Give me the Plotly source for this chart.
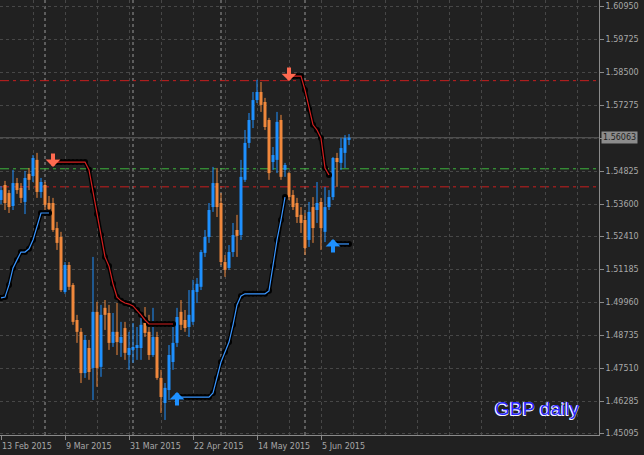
import plotly.graph_objects as go
import pandas as pd

# ---------------- data ----------------
dates = pd.bdate_range("2015-02-13", periods=88)

opens = [1.5375, 1.5431, 1.5401, 1.5353, 1.5438, 1.5420, 1.5368, 1.5472, 1.5464, 1.5524,
         1.5405, 1.5431, 1.5364, 1.5364, 1.5271, 1.5238, 1.5034, 1.5134, 1.5060, 1.4930,
         1.4886, 1.4733, 1.4826, 1.4752, 1.4960, 1.4756, 1.4975, 1.4956, 1.4845, 1.4886,
         1.4845, 1.4900, 1.4800, 1.4819, 1.4826, 1.4826, 1.4919, 1.4886, 1.4800, 1.4867,
         1.4715, 1.4622, 1.4670, 1.4774, 1.4845, 1.4960, 1.4930, 1.4904, 1.4923, 1.5034,
         1.5053, 1.5179, 1.5238, 1.5349, 1.5438, 1.5364, 1.5145, 1.5123, 1.5182, 1.5264,
         1.5245, 1.5450, 1.5587, 1.5672, 1.5746, 1.5776, 1.5739, 1.5672, 1.5516, 1.5524,
         1.5672, 1.5487, 1.5475, 1.5394, 1.5364, 1.5320, 1.5301, 1.5227, 1.5349, 1.5338,
         1.5368, 1.5257, 1.5349, 1.5386, 1.5531, 1.5513, 1.5550, 1.5598]
highs = [1.5427, 1.5446, 1.5412, 1.5487, 1.5457, 1.5438, 1.5483, 1.5494, 1.5542, 1.5550,
         1.5457, 1.5442, 1.5390, 1.5383, 1.5294, 1.5257, 1.5145, 1.5145, 1.5067, 1.4949,
         1.4900, 1.4874, 1.4856, 1.5164, 1.4997, 1.4986, 1.5004, 1.4986, 1.4956, 1.4993,
         1.4923, 1.4923, 1.4886, 1.4919, 1.4904, 1.4949, 1.4978, 1.4949, 1.4975, 1.4886,
         1.4745, 1.4696, 1.4837, 1.4904, 1.4975, 1.5004, 1.4967, 1.5041, 1.5079, 1.5086,
         1.5190, 1.5264, 1.5364, 1.5498, 1.5494, 1.5401, 1.5171, 1.5208, 1.5290, 1.5320,
         1.5524, 1.5635, 1.5698, 1.5776, 1.5821, 1.5813, 1.5754, 1.5680, 1.5572, 1.5702,
         1.5691, 1.5513, 1.5479, 1.5412, 1.5383, 1.5349, 1.5327, 1.5368, 1.5386, 1.5442,
         1.5383, 1.5424, 1.5412, 1.5535, 1.5550, 1.5605, 1.5616, 1.5620]
lows = [1.5360, 1.5338, 1.5327, 1.5338, 1.5398, 1.5364, 1.5323, 1.5412, 1.5442, 1.5383,
        1.5383, 1.5338, 1.5331, 1.5257, 1.5190, 1.5034, 1.5027, 1.5041, 1.4912, 1.4845,
        1.4696, 1.4715, 1.4708, 1.4633, 1.4682, 1.4719, 1.4893, 1.4819, 1.4830, 1.4800,
        1.4793, 1.4782, 1.4745, 1.4771, 1.4782, 1.4782, 1.4867, 1.4782, 1.4793, 1.4708,
        1.4585, 1.4559, 1.4633, 1.4745, 1.4830, 1.4893, 1.4886, 1.4867, 1.4912, 1.4993,
        1.5041, 1.5164, 1.5216, 1.5331, 1.5312, 1.5134, 1.5090, 1.5116, 1.5164, 1.5164,
        1.5227, 1.5442, 1.5568, 1.5642, 1.5735, 1.5702, 1.5635, 1.5450, 1.5487, 1.5475,
        1.5450, 1.5461, 1.5375, 1.5338, 1.5290, 1.5253, 1.5171, 1.5201, 1.5216, 1.5290,
        1.5190, 1.5219, 1.5338, 1.5375, 1.5424, 1.5487, 1.5494, 1.5579]
closes = [1.5412, 1.5364, 1.5349, 1.5438, 1.5412, 1.5383, 1.5457, 1.5450, 1.5531, 1.5405,
          1.5442, 1.5357, 1.5342, 1.5264, 1.5216, 1.5041, 1.5134, 1.5053, 1.4923, 1.4886,
          1.4733, 1.4856, 1.4737, 1.4960, 1.4752, 1.4949, 1.4949, 1.4845, 1.4886, 1.4848,
          1.4867, 1.4808, 1.4826, 1.4830, 1.4837, 1.4912, 1.4882, 1.4800, 1.4867, 1.4715,
          1.4644, 1.4678, 1.4800, 1.4845, 1.4941, 1.4912, 1.4900, 1.4949, 1.5041, 1.5064,
          1.5182, 1.5238, 1.5338, 1.5438, 1.5349, 1.5145, 1.5116, 1.5182, 1.5245, 1.5242,
          1.5461, 1.5587, 1.5672, 1.5746, 1.5776, 1.5728, 1.5646, 1.5475, 1.5542, 1.5665,
          1.5461, 1.5505, 1.5386, 1.5349, 1.5312, 1.5290, 1.5197, 1.5331, 1.5271, 1.5364,
          1.5271, 1.5349, 1.5386, 1.5531, 1.5516, 1.5568, 1.5605, 1.56063]

# trailing stop lines (None = inactive)
sell_stop = ([None] * 13 +
             [1.5516, 1.5516, 1.5516, 1.5516, 1.5516, 1.5516, 1.5516, 1.5516, 1.5516,
              1.5487, 1.5409, 1.5323, 1.5245, 1.5164, 1.5130, 1.5064, 1.5015, 1.5001,
              1.4993, 1.4989, 1.4982, 1.4967, 1.4949, 1.4930,
              1.4915, 1.4915, 1.4915, 1.4915, 1.4915, 1.4915, 1.4915] +
             [None] * 28 +
             [1.5835, 1.5835, 1.5835, 1.5835, 1.5783, 1.5713, 1.5654, 1.5635, 1.5605,
              1.5494, 1.5468] +
             [None] * 5)
buy_stop = ([1.5012, 1.5015, 1.5060, 1.5123, 1.5153, 1.5182, 1.5182, 1.5194, 1.5227,
             1.5275, 1.5327, 1.5327, 1.5327] +
            [None] * 31 +
            [1.4644, 1.4644, 1.4644, 1.4644, 1.4644, 1.4644, 1.4644, 1.4644, 1.4644,
             1.4659, 1.4715, 1.4774, 1.4811, 1.4848, 1.4912, 1.4986, 1.5019,
             1.5027, 1.5027, 1.5027, 1.5027, 1.5027, 1.5027,
             1.5038, 1.5130, 1.5227, 1.5301, 1.5386] +
            [None] * 11 +
            [1.5212, 1.5212, 1.5212, 1.5212, 1.5212])

level_green = 1.5491
level_red_upper = 1.5818
level_red_lower = 1.5424

price_ticks = [1.60950, 1.59725, 1.58500, 1.57275, 1.56050, 1.54825, 1.53600,
               1.52410, 1.51185, 1.49960, 1.48735, 1.47510, 1.46285, 1.45095]
price_labels = ["1.60950", "1.59725", "1.58500", "1.57275", "", "1.54825", "1.53600",
                "1.52410", "1.51185", "1.49960", "1.48735", "1.47510", "1.46285", "1.45095"]
date_tick_idx = [0, 16, 32, 48, 64, 80]
chart_title = "GBP daily"

# ---------------- styling ----------------
BG = "#212121"
GRID = "#474747"
AXIS = "#8a8a8a"
TXT = "#a8a8a8"
BULL = "#1e90ff"
BEAR = "#f0883c"
RED = "#d42020"
BLUE = "#3a96ff"
ARROW_RED = "#ff6a50"
ARROW_BLUE = "#1e90ff"
FONT = "DejaVu Sans"

x = list(range(len(dates)))
fig = go.Figure()

# candles
for up, col in [(True, BULL), (False, BEAR)]:
    idx = [i for i in x if (closes[i] >= opens[i]) == up]
    fig.add_trace(go.Bar(
        x=idx,
        y=[max(abs(closes[i] - opens[i]), 0.0003) for i in idx],
        base=[min(opens[i], closes[i]) for i in idx],
        width=0.75, marker=dict(color=col, line=dict(width=0)),
        hoverinfo="skip", showlegend=False))
    wx, wy = [], []
    for i in idx:
        wx += [i, i, None]
        wy += [lows[i], highs[i], None]
    fig.add_trace(go.Scatter(x=wx, y=wy, mode="lines", line=dict(color=col, width=1),
                             hoverinfo="skip", showlegend=False))

# trailing stop lines
for stop, col in [(sell_stop, RED), (buy_stop, BLUE)]:
    fig.add_trace(go.Scatter(x=x, y=stop, mode="lines+markers",
                             line=dict(color="black", width=4),
                             marker=dict(color="black", size=6),
                             connectgaps=False, hoverinfo="skip", showlegend=False))
    fig.add_trace(go.Scatter(x=x, y=stop, mode="lines", line=dict(color=col, width=1.2),
                             connectgaps=False, hoverinfo="skip", showlegend=False))

# signal arrows at the start of each stop segment
for i in x[1:]:
    if sell_stop[i] is not None and sell_stop[i - 1] is None:
        fig.add_annotation(x=i, y=sell_stop[i], text="", showarrow=True, ax=0, ay=-15,
                           arrowhead=1, arrowsize=0.62, arrowwidth=4,
                           arrowcolor=ARROW_RED, yshift=-5)
    if buy_stop[i] is not None and buy_stop[i - 1] is None:
        fig.add_annotation(x=i, y=buy_stop[i], text="", showarrow=True, ax=0, ay=15,
                           arrowhead=1, arrowsize=0.62, arrowwidth=4,
                           arrowcolor=ARROW_BLUE, yshift=5)

shapes = []
# month separators
for i in x[1:]:
    if dates[i].month != dates[i - 1].month:
        shapes.append(dict(type="line", xref="x", yref="paper", x0=i, x1=i, y0=0, y1=1,
                           line=dict(color="#9a9a9a", width=1, dash="3px,3px"), layer="between"))
# horizontal levels
for lv, col in [(level_green, "#3cb43c"), (level_red_upper, "#c81e1e"), (level_red_lower, "#c81e1e")]:
    shapes.append(dict(type="line", xref="paper", yref="y", x0=0, x1=1, y0=lv, y1=lv,
                       line=dict(color=col, width=1, dash="9px,4px,3px,4px"), layer="between"))
# current price line
shapes.append(dict(type="line", xref="paper", yref="y", x0=0, x1=1, y0=closes[-1], y1=closes[-1],
                   line=dict(color="#5c5c5c", width=1), layer="between"))

# current price box
fig.add_annotation(x=1, xref="paper", xanchor="left", xshift=2, y=closes[-1], yref="y",
                   text=f"{closes[-1]:.5f}", showarrow=False,
                   font=dict(family=FONT, size=8, color="#1c1c1c"),
                   bgcolor="#8c8c8c", borderpad=1)
# title label
fig.add_annotation(x=0.898, y=0.062, xref="paper", yref="paper", text=chart_title,
                   xanchor="center", yanchor="middle", showarrow=False,
                   font=dict(family="Liberation Sans", size=19, color="#2626ff",
                             shadow="-1px 0px 0px #f4f4ff, -1px 1px 0px #f4f4ff, 0px 1px 0px #f4f4ff"))

fig.update_layout(
    width=644, height=455,
    margin=dict(l=0, r=45, t=0, b=20),
    paper_bgcolor=BG, plot_bgcolor=BG,
    barmode="overlay", showlegend=False,
    shapes=shapes,
    font=dict(family=FONT, size=8, color=TXT),
    xaxis=dict(range=[-0.25, 149.5],
               tickvals=date_tick_idx,
               ticktext=[f"{dates[i].day} {dates[i].strftime('%b %Y')}" for i in date_tick_idx],
               ticks="outside", ticklen=4, tickcolor=AXIS,
               ticklabelposition="outside right", ticklabelstandoff=3,
               showline=True, linecolor=AXIS, linewidth=1,
               showgrid=True, gridcolor=GRID, griddash="3px,3px", gridwidth=1,
               minor=dict(tick0=0, dtick=8, showgrid=True, gridcolor=GRID,
                          griddash="3px,3px", ticks=""),
               zeroline=False, tickfont=dict(family=FONT, size=8, color=TXT),
               automargin=False, fixedrange=True),
    yaxis=dict(range=[1.45032, 1.61173], side="right",
               tickvals=price_ticks, ticktext=price_labels,
               ticks="outside", ticklen=4, tickcolor=AXIS,
               showline=True, linecolor=AXIS, linewidth=1,
               showgrid=True, gridcolor=GRID, griddash="3px,3px", gridwidth=1,
               zeroline=False, tickfont=dict(family=FONT, size=8, color=TXT),
               automargin=False, fixedrange=True),
)

fig.write_html("out.html", config={"displayModeBar": False},
               post_script="document.body.style.margin='0';document.body.style.background='%s';" % BG)
